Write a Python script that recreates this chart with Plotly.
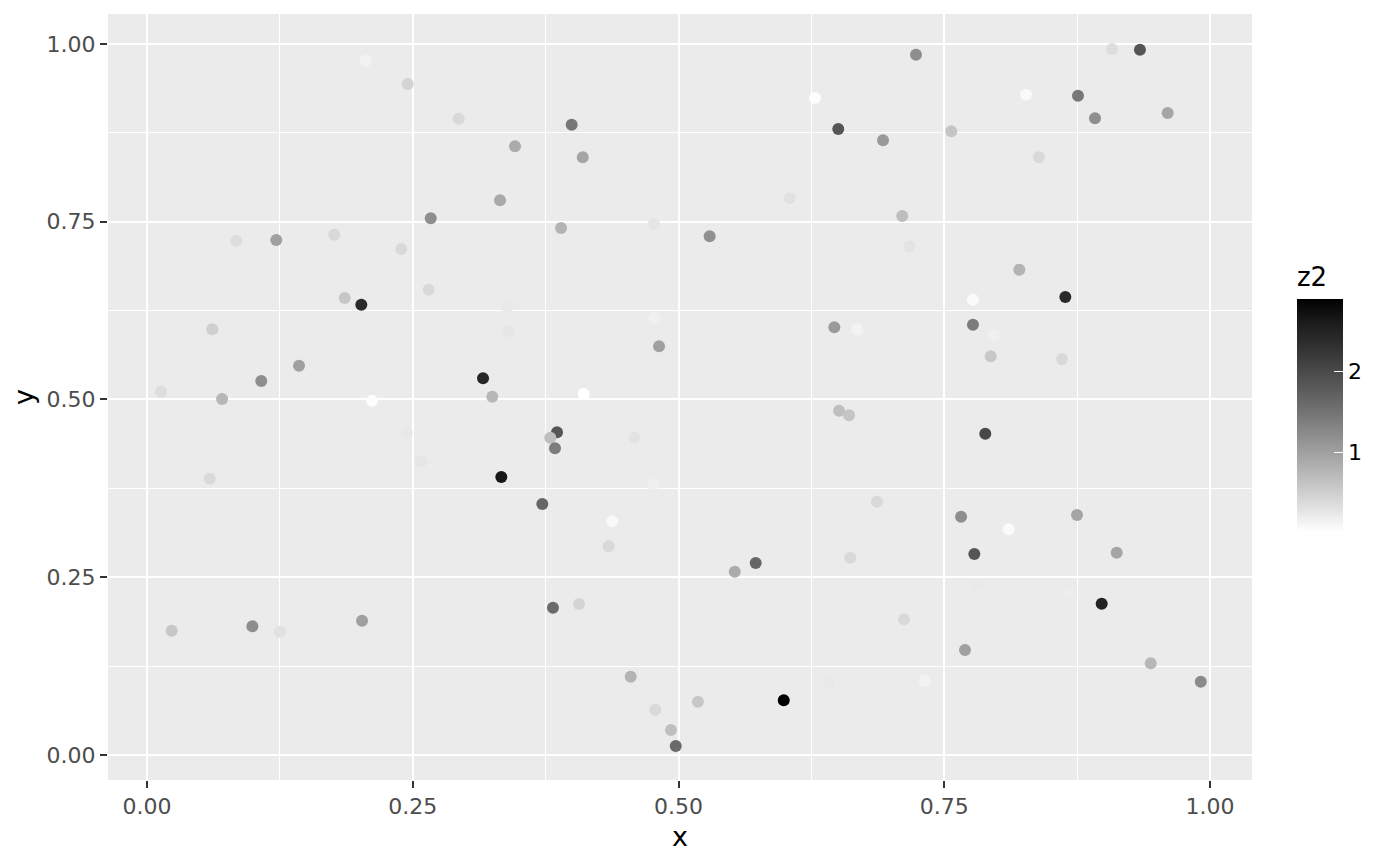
import plotly.graph_objects as go

# scatter data (x, y, z2)
x_vals = [
    0.2057, 0.2453, 0.2932, 0.3462, 0.2669, 0.0840, 0.1216, 0.1762, 0.2392, 0.1860,
    0.2016, 0.2650, 0.0614, 0.1430, 0.1075, 0.3161, 0.0132, 0.0706, 0.2117, 0.3248,
    0.6284, 0.6503, 0.3995, 0.4099, 0.3321, 0.6046, 0.3895, 0.4770, 0.5293, 0.3387,
    0.3399, 0.4772, 0.4817, 0.6466, 0.6679, 0.4108,
    0.7234, 0.9078, 0.9341, 0.8269, 0.8758, 0.8918, 0.9602, 0.7566, 0.6924, 0.8391,
    0.7105, 0.7171, 0.8206, 0.7770, 0.8639, 0.7770, 0.7968, 0.7937, 0.8608,
    0.2446, 0.2578, 0.0590, 0.0232, 0.0991, 0.1251, 0.2023,
    0.6510, 0.6604, 0.3857, 0.3794, 0.3838, 0.4584, 0.3333, 0.4760, 0.3719, 0.4377,
    0.4343, 0.5529, 0.5726, 0.6616, 0.3819, 0.4064, 0.4550, 0.4782, 0.4929, 0.4974,
    0.5183, 0.5990, 0.6416,
    0.7886, 0.6867, 0.7658, 0.8106, 0.8749, 0.7783, 0.9122, 0.7820, 0.8683, 0.8981,
    0.7121, 0.7695, 0.7316, 0.9442, 0.9913,
]
y_vals = [
    0.9765, 0.9437, 0.8949, 0.8561, 0.7549, 0.7233, 0.7243, 0.7318, 0.7117, 0.6428,
    0.6333, 0.6544, 0.5987, 0.5475, 0.5260, 0.5298, 0.5110, 0.5007, 0.4983, 0.5039,
    0.9241, 0.8805, 0.8865, 0.8406, 0.7802, 0.7830, 0.7412, 0.7468, 0.7295, 0.6305,
    0.5959, 0.6146, 0.5748, 0.6015, 0.5982, 0.5077,
    0.9850, 0.9930, 0.9920, 0.9287, 0.9273, 0.8955, 0.9030, 0.8772, 0.8646, 0.8406,
    0.7581, 0.7155, 0.6826, 0.6404, 0.6442, 0.6052, 0.5907, 0.5608, 0.5570,
    0.4529, 0.4131, 0.3886, 0.1748, 0.1810, 0.1734, 0.1889,
    0.4843, 0.4778, 0.4539, 0.4463, 0.4314, 0.4463, 0.3910, 0.3807, 0.3530, 0.3287,
    0.2935, 0.2578, 0.2700, 0.2775, 0.2072, 0.2124, 0.1101, 0.0637, 0.0352, 0.0127,
    0.0750, 0.0769, 0.1008,
    0.4519, 0.3563, 0.3352, 0.3174, 0.3376, 0.2827, 0.2845, 0.2391, 0.2283, 0.2128,
    0.1909, 0.1477, 0.1045, 0.1290, 0.1031,
]
z2_vals = [
    0.15, 0.45, 0.40, 0.88, 1.20, 0.36, 1.00, 0.40, 0.40, 0.58,
    2.40, 0.40, 0.50, 1.00, 1.20, 2.45, 0.36, 0.75, 0.04, 0.75,
    0.04, 1.85, 1.45, 0.95, 0.90, 0.32, 0.80, 0.28, 1.18, 0.25,
    0.27, 0.17, 1.00, 1.07, 0.14, 0.02,
    1.20, 0.36, 1.85, 0.08, 1.45, 1.20, 0.95, 0.60, 1.08, 0.40,
    0.68, 0.30, 0.80, 0.07, 2.40, 1.40, 0.17, 0.58, 0.40,
    0.25, 0.28, 0.40, 0.58, 1.20, 0.32, 1.00,
    0.67, 0.60, 1.85, 0.68, 1.40, 0.30, 2.65, 0.18, 1.65, 0.08,
    0.40, 0.88, 1.65, 0.40, 1.60, 0.45, 0.80, 0.40, 0.67, 1.60,
    0.58, 2.89, 0.25,
    2.00, 0.40, 1.20, 0.07, 0.95, 1.85, 0.95, 0.24, 0.20, 2.50,
    0.40, 1.00, 0.15, 0.75, 1.25,
]
tick_vals = [0, 0.25, 0.5, 0.75, 1]
tick_text = ["0.00", "0.25", "0.50", "0.75", "1.00"]


# white -> black gradient, interpolated on CIE L* like ggplot does
def lab_grey(L):
    fy = (L + 16) / 116
    Y = fy ** 3 if L > 8 else L / 903.3
    c = 12.92 * Y if Y <= 0.0031308 else 1.055 * Y ** (1 / 2.4) - 0.055
    v = int(round(max(0, min(1, c)) * 255))
    return f"rgb({v},{v},{v})"


grey_scale = [[i / 10, lab_grey(100 - 10 * i)] for i in range(11)]

font_fam = "DejaVu Sans"

fig = go.Figure()
fig.add_trace(go.Scatter(
    x=x_vals, y=y_vals,
    mode="markers",
    marker=dict(
        size=12,
        color=z2_vals,
        colorscale=grey_scale,
        line=dict(width=0),
        showscale=True,
        colorbar=dict(
            title=dict(text="z2", side="top", font=dict(size=26, color="black", family=font_fam)),
            x=1.0393, xanchor="left", xpad=0,
            y=0.3238, yanchor="bottom", ypad=0,
            len=268, lenmode="pixels",
            thickness=46, thicknessmode="pixels",
            outlinewidth=0,
            tickvals=[1, 2],
            ticks="inside", ticklen=9, tickcolor="white", tickwidth=1,
            tickfont=dict(size=22, color="black", family=font_fam),
        ),
    ),
    showlegend=False,
    hoverinfo="skip",
))

axis_common = dict(
    tickvals=tick_vals,
    ticktext=tick_text,
    showgrid=True, gridcolor="white", gridwidth=2.2,
    minor=dict(showgrid=True, gridcolor="white", gridwidth=1, dtick=0.125, tick0=0.125),
    zeroline=False,
    showline=False,
    ticks="outside", ticklen=7, tickwidth=2, tickcolor="#333333",
    tickfont=dict(size=22, color="#4d4d4d", family=font_fam),
)

# page body has an 8px margin, so the figure is shrunk by 8px on each side
fig.update_layout(
    width=1392, height=858,
    margin=dict(l=100, r=148, t=6, b=86),
    paper_bgcolor="white",
    plot_bgcolor="#ebebeb",
    font=dict(family=font_fam, color="black"),
    xaxis=dict(
        range=[-0.0367, 1.0395],
        title=dict(text="x", font=dict(size=27, color="black", family=font_fam), standoff=8),
        **axis_common,
    ),
    yaxis=dict(
        range=[-0.0352, 1.0422],
        title=dict(text="y", font=dict(size=27, color="black", family=font_fam), standoff=8),
        **axis_common,
    ),
)

fig.write_html("out.html")
